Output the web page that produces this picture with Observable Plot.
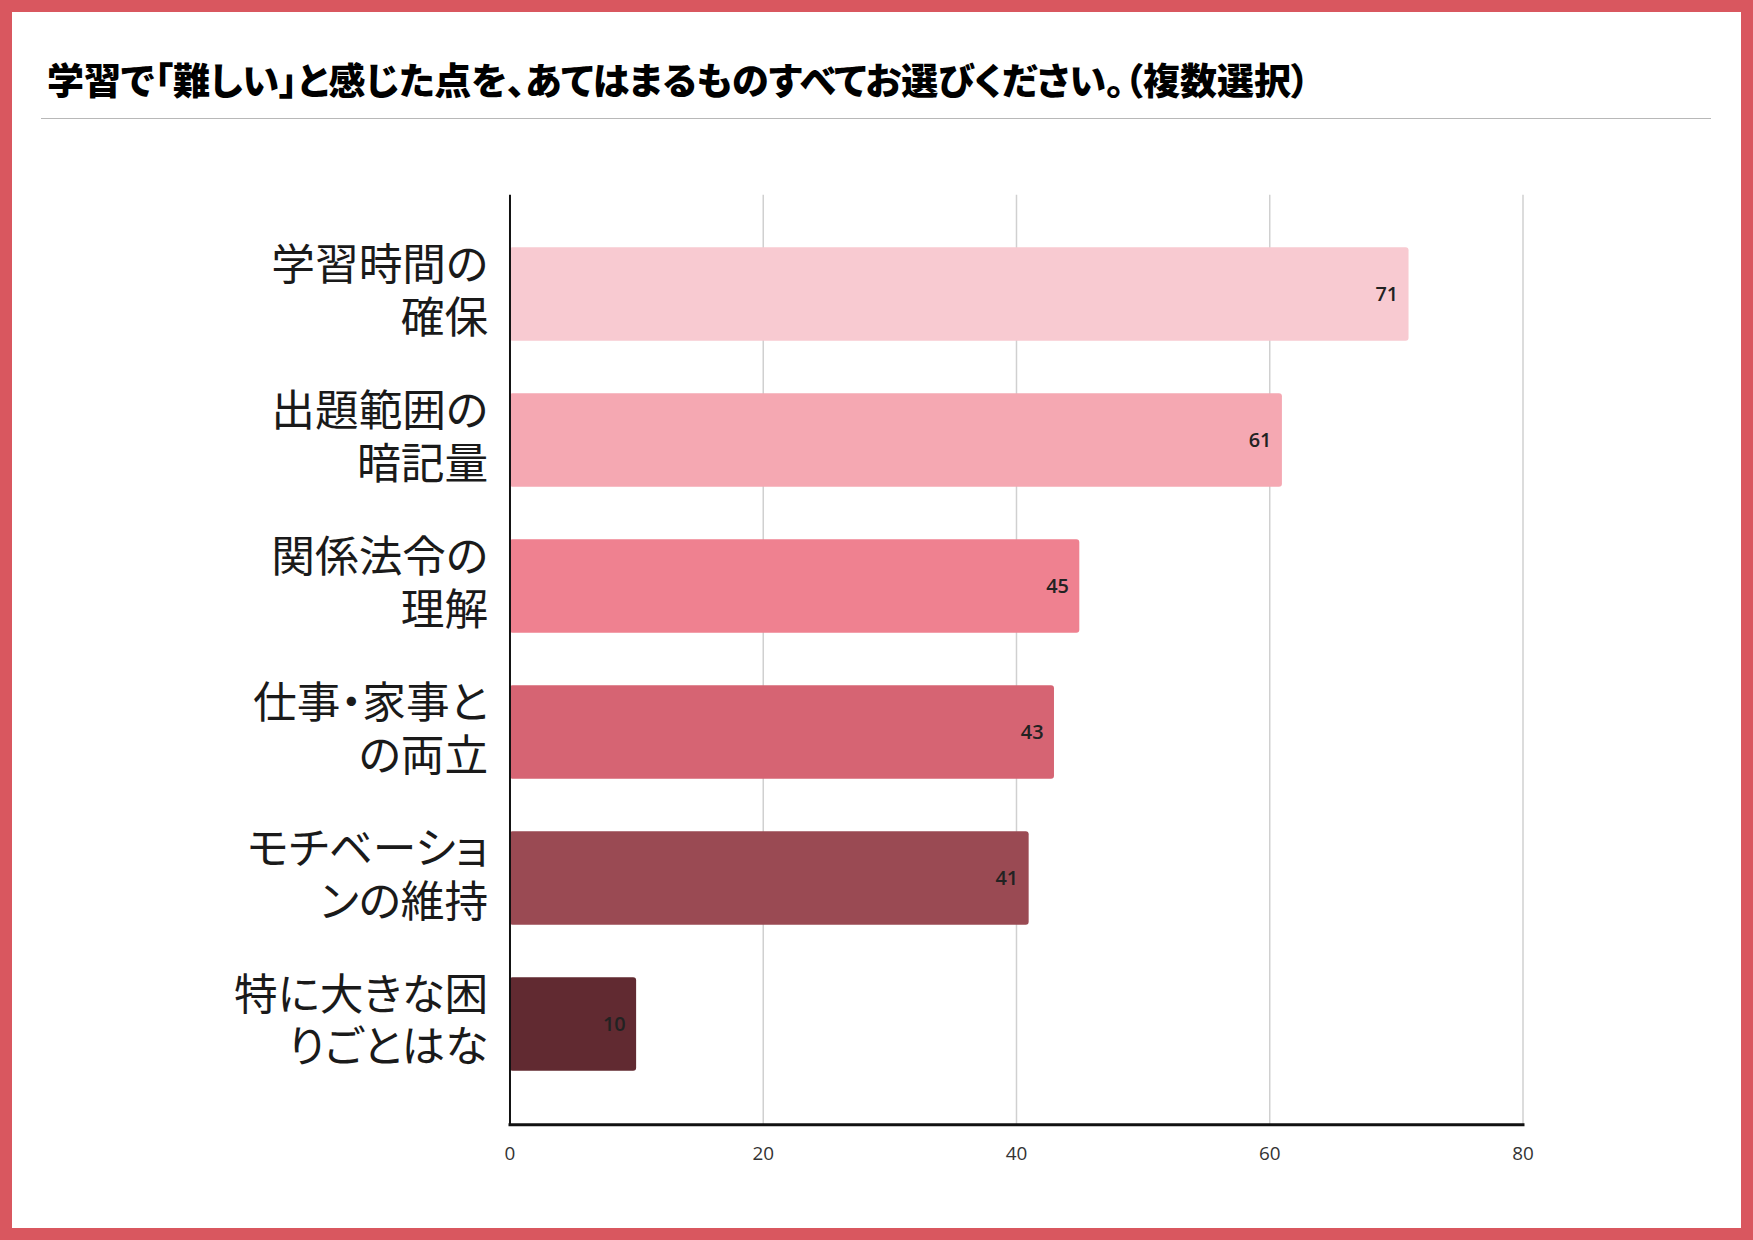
<!DOCTYPE html>
<html>
<head>
<meta charset="utf-8">
<script src="https://cdn.jsdelivr.net/npm/d3@7"></script>
<script src="https://cdn.jsdelivr.net/npm/@observablehq/plot@0.6"></script>
<style>
  html, body { margin: 0; padding: 0; background: #fff; }
  #page {
    position: relative; width: 1753px; height: 1240px; box-sizing: border-box;
    border: 12px solid #D9575F; background: #fff; overflow: hidden;
  }
  #title {
    position: absolute; left: 35px; top: 46px;
    font-family: "Noto Sans CJK JP", sans-serif; font-weight: 900; font-size: 37px;
    font-feature-settings: "palt";
    color: #000; white-space: nowrap;
    line-height: 42px;
  }
  #rule { position: absolute; left: 29px; top: 106px; width: 1670px; height: 0; border-top: 1.5px solid #b8b8b8; }
  #chart { position: absolute; left: -12px; top: 138px; }
  #chart g[aria-label="y-axis tick label"] text { font-feature-settings: "palt"; }
</style>
</head>
<body>
<div id="page">
  <div id="title">学習で「難しい」と感じた点を、あてはまるものすべてお選びください。（複数選択）</div>
  <div id="rule"></div>
  <div id="chart"></div>
</div>
<script>
const categories = ["学習時間の確保", "出題範囲の暗記量", "関係法令の理解", "仕事・家事との両立", "モチベーションの維持", "特に大きな困りごとはな"];
const labelLines = ["学習時間の\n確保", "出題範囲の\n暗記量", "関係法令の\n理解", "仕事・家事と\nの両立", "モチベーショ\nンの維持", "特に大きな困\nりごとはな"];
const values = [71, 61, 45, 43, 41, 10];
const colors = ["#F8CAD1", "#F5A8B2", "#EF8190", "#D66473", "#9A4A53", "#612A31"];
const xTicks = [0, 20, 40, 60, 80];

const data = categories.map((c, i) => ({category: c, value: values[i], color: colors[i], label: labelLines[i]}));
const labelOf = new Map(data.map(d => [d.category, d.label]));

const chart = Plot.plot({
  width: 1753,
  height: 1044,
  marginTop: 45,
  marginBottom: 63,
  marginLeft: 513,
  marginRight: 220,
  style: {background: "transparent", fontFamily: "'Open Sans', sans-serif"},
  x: {domain: [0, 80], ticks: xTicks},
  y: {domain: categories, padding: 0.36},
  marks: [
    Plot.ruleX(xTicks.filter(t => t > 0), {stroke: "#d0d0d0", strokeWidth: 1.5}),
    Plot.barX(data, {y: "category", x: "value", fill: "color", rx: 3}),
    Plot.text(data, {y: "category", x: "value", text: d => String(d.value), textAnchor: "end", dx: -11,
      fill: "#222", fontSize: 20, fontWeight: 600, fontFamily: "'Open Sans', sans-serif"}),
    Plot.ruleX([0], {stroke: "#111", strokeWidth: 2}),
    Plot.frame({anchor: "bottom", stroke: "#111", strokeWidth: 3}),
    Plot.axisX({ticks: xTicks, tickSize: 0, tickPadding: 22, fontSize: 19, color: "#333", label: null}),
    Plot.axisY({tickSize: 0, tickPadding: 22, dy: -5, tickFormat: d => labelOf.get(d), fontSize: 44, lineHeight: 1.2,
      fontFamily: "'Noto Sans CJK JP', sans-serif", fontWeight: 400, color: "#1a1a1a", label: null, textAnchor: "end"})
  ]
});
document.getElementById("chart").appendChild(chart);
</script>
</body>
</html>
